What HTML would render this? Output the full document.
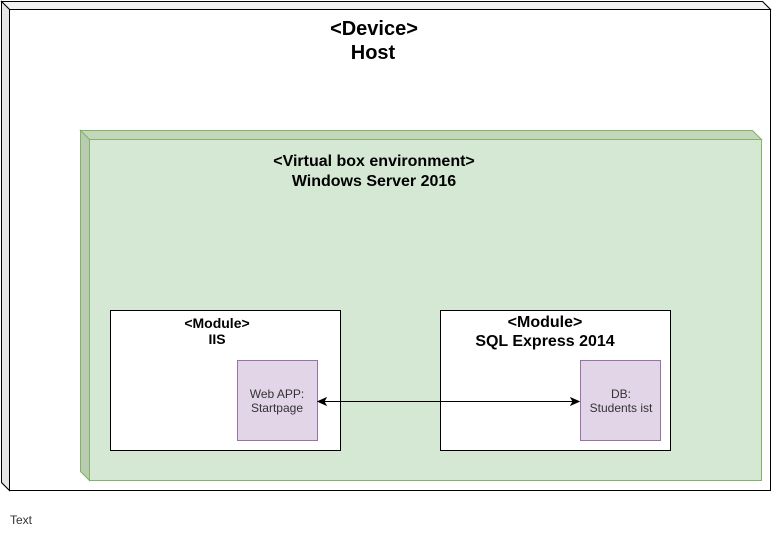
<!DOCTYPE html>
<html><head><meta charset="utf-8"><style>body{margin:0;background:#fff}svg{display:block}</style></head><body>
<svg width="782" height="542" viewBox="0 0 782 542" xmlns="http://www.w3.org/2000/svg" font-family="Liberation Sans, Arial, sans-serif">
<path d="M1.5 1.5 L762.5 1.5 L770.5 9.5 L770.5 490.5 L9.5 490.5 L1.5 482.5 Z" fill="#fff" stroke="#000"/>
<path d="M1.5 1.5 L762.5 1.5 L770.5 9.5 L9.5 9.5 Z" fill="#f2f2f2" stroke="#000"/>
<path d="M1.5 1.5 L9.5 9.5 L9.5 490.5 L1.5 482.5 Z" fill="#e6e6e6" stroke="#000"/>
<rect x="9.5" y="9.5" width="761" height="481" fill="#fff" stroke="#000"/>
<text x="374" y="35" font-size="20" font-weight="bold" text-anchor="middle">&lt;Device&gt;</text>
<text x="373" y="59" font-size="20" font-weight="bold" text-anchor="middle">Host</text>
<path d="M80.5 130.5 L752.5 130.5 L761.5 139.5 L89.5 139.5 Z" fill="#c4d7bd" stroke="#82b366"/>
<path d="M80.5 130.5 L89.5 139.5 L89.5 480.5 L80.5 471.5 Z" fill="#b9cbb3" stroke="#82b366"/>
<rect x="89.5" y="139.5" width="672" height="341" fill="#d5e8d4" stroke="#82b366"/>
<text x="374" y="166" font-size="16" font-weight="bold" text-anchor="middle">&lt;Virtual box environment&gt;</text>
<text x="374" y="186" font-size="16" font-weight="bold" text-anchor="middle">Windows Server 2016</text>
<rect x="110.5" y="310.5" width="230" height="140" fill="#fff" stroke="#000"/>
<text x="217" y="328" font-size="14" font-weight="bold" text-anchor="middle">&lt;Module&gt;</text>
<text x="217" y="344" font-size="14" font-weight="bold" text-anchor="middle">IIS</text>
<rect x="237.5" y="360.5" width="80" height="80" fill="#e1d5e7" stroke="#9673a6"/>
<text x="277" y="398" font-size="12" fill="#333" text-anchor="middle">Web APP:</text>
<text x="277" y="412" font-size="12" fill="#333" text-anchor="middle">Startpage</text>
<rect x="440.5" y="310.5" width="230" height="140" fill="#fff" stroke="#000"/>
<text x="545" y="327" font-size="16" font-weight="bold" text-anchor="middle">&lt;Module&gt;</text>
<text x="545" y="346" font-size="16" font-weight="bold" text-anchor="middle">SQL Express 2014</text>
<rect x="580.5" y="360.5" width="80" height="80" fill="#e1d5e7" stroke="#9673a6"/>
<text x="621" y="398" font-size="12" fill="#333" text-anchor="middle">DB:</text>
<text x="621" y="412" font-size="12" fill="#333" text-anchor="middle">Students ist</text>
<line x1="324" y1="401.5" x2="573" y2="401.5" stroke="#000"/>
<path d="M318 401.5 L326 398 L324 401.5 L326 405 Z" fill="#000" stroke="#000"/>
<path d="M579 401.5 L571 398 L573 401.5 L571 405 Z" fill="#000" stroke="#000"/>
<text x="10" y="524" font-size="12" fill="#333">Text</text>
</svg>
</body></html>
